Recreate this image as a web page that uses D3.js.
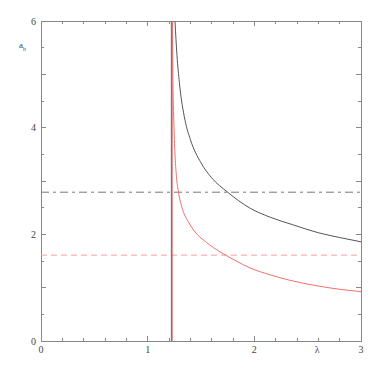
<!DOCTYPE html>
<html>
<head>
<meta charset="utf-8">
<script src="https://cdn.jsdelivr.net/npm/d3@7"></script>
<style>
  body { margin: 0; background: #fff; }
  svg text { font-family: "Liberation Serif", serif; fill: #444; }
</style>
</head>
<body>
<svg id="chart" width="382" height="382"></svg>
<script>
// values
const xTicksMajor = [0, 1, 2, 3];
const yTicksMajor = [0, 1, 2, 3, 4, 5, 6];
const yTickLabels = [0, 2, 4, 6];
const asymptoteBlack = 1.222;
const asymptoteRed = 1.229;
const levelBlack = 2.79;
const levelRed = 1.61;

const blackCurve = [
    [1.256, 6.0], [1.275, 5.35], [1.297, 4.85], [1.35, 4.14], [1.40, 3.78],
    [1.50, 3.34], [1.60, 3.06], [1.75, 2.79], [1.96, 2.49], [2.15, 2.32],
    [2.36, 2.18], [2.60, 2.03], [2.80, 1.94], [3.0, 1.86]
];
const redCurve = [
    [1.232, 6.0], [1.236, 5.0], [1.243, 4.3], [1.255, 3.55], [1.27, 3.08],
    [1.29, 2.78], [1.33, 2.45], [1.38, 2.24], [1.43, 2.08], [1.55, 1.85],
    [1.68, 1.67], [1.82, 1.51], [1.96, 1.37], [2.15, 1.24], [2.33, 1.14],
    [2.60, 1.03], [2.80, 0.97], [3.0, 0.925]
];

const svg = d3.select("#chart");
const margin = { left: 41, top: 21, right: 21, bottom: 41 };
const w = 382 - margin.left - margin.right;
const h = 382 - margin.top - margin.bottom;

const x = d3.scaleLinear().domain([0, 3]).range([margin.left, margin.left + w]);
const y = d3.scaleLinear().domain([0, 6]).range([margin.top + h, margin.top]);

const axisColor = "#888";

// inward ticks on all four sides
function drawTicks(g, orient) {
    const minorX = d3.range(0, 3.001, 0.2);
    const minorY = d3.range(0, 6.001, 0.5);
    if (orient === "bottom" || orient === "top") {
        const y0 = orient === "bottom" ? y(0) : y(6);
        const dir = orient === "bottom" ? -1 : 1;
        g.selectAll(null).data(minorX).enter().append("line")
            .attr("x1", d => x(d)).attr("x2", d => x(d))
            .attr("y1", y0)
            .attr("y2", d => y0 + dir * (xTicksMajor.some(m => Math.abs(m - d) < 1e-6) ? 5 : 3))
            .attr("stroke", axisColor);
    } else {
        const x0 = orient === "left" ? x(0) : x(3);
        const dir = orient === "left" ? 1 : -1;
        g.selectAll(null).data(minorY).enter().append("line")
            .attr("y1", d => y(d)).attr("y2", d => y(d))
            .attr("x1", x0)
            .attr("x2", d => x0 + dir * (yTicksMajor.includes(d) ? 5 : 3))
            .attr("stroke", axisColor);
    }
}

const axes = svg.append("g").attr("shape-rendering", "crispEdges");
["bottom", "top", "left", "right"].forEach(o => drawTicks(axes, o));

axes.append("rect")
    .attr("x", x(0)).attr("y", y(6))
    .attr("width", w).attr("height", h)
    .attr("fill", "none").attr("stroke", axisColor);

// labels
svg.append("g").selectAll("text").data(xTicksMajor).enter().append("text")
    .attr("x", d => x(d)).attr("y", y(0) + 12)
    .attr("text-anchor", "middle").attr("font-size", 10)
    .text(d => d);

svg.append("g").selectAll("text").data(yTickLabels).enter().append("text")
    .attr("x", x(0) - 5).attr("y", d => y(d) + 3.5)
    .attr("text-anchor", "end").attr("font-size", 10)
    .text(d => d);

svg.append("text")
    .attr("x", x(2.59)).attr("y", y(0) + 12)
    .attr("text-anchor", "middle").attr("font-size", 10)
    .text("λ");

const yl = svg.append("text").attr("x", 19).attr("y", 48).attr("font-size", 9);
yl.append("tspan").text("a");
yl.append("tspan").attr("font-size", 6).attr("dy", 2.5).text("b");

// plot content
const plot = svg.append("g");

plot.append("line")
    .attr("x1", x(0)).attr("x2", x(3))
    .attr("y1", y(levelBlack)).attr("y2", y(levelBlack))
    .attr("stroke", "#777").attr("stroke-dasharray", "8,4,3,4");

plot.append("line")
    .attr("x1", x(0)).attr("x2", x(3))
    .attr("y1", y(levelRed)).attr("y2", y(levelRed))
    .attr("stroke", "#f5a0a0").attr("stroke-dasharray", "6,4");

plot.append("line")
    .attr("x1", x(asymptoteBlack)).attr("x2", x(asymptoteBlack))
    .attr("y1", y(0)).attr("y2", y(6))
    .attr("stroke", "#666");

plot.append("line")
    .attr("x1", x(asymptoteRed)).attr("x2", x(asymptoteRed))
    .attr("y1", y(0)).attr("y2", y(6))
    .attr("stroke", "#d05050");

const line = d3.line()
    .x(d => x(d[0])).y(d => y(d[1]))
    .curve(d3.curveMonotoneX);

plot.append("path").datum(blackCurve)
    .attr("d", line).attr("fill", "none").attr("stroke", "#555");

plot.append("path").datum(redCurve)
    .attr("d", line).attr("fill", "none").attr("stroke", "#f07070");
</script>
</body>
</html>
